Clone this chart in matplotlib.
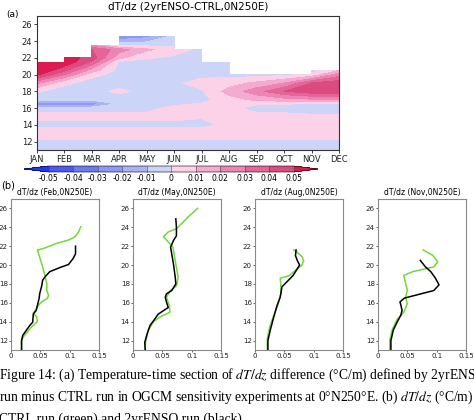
import numpy as np
import matplotlib
matplotlib.use("Agg")
import matplotlib.pyplot as plt
from matplotlib import font_manager
from matplotlib.colors import ListedColormap, BoundaryNorm

nan = np.nan

# ---- panel (a): dT/dz difference, month x temperature level (units 1e-3 C/m)
months = list(range(1, 13))
month_labels = ["JAN", "FEB", "MAR", "APR", "MAY", "JUN",
                "JUL", "AUG", "SEP", "OCT", "NOV", "DEC"]
temp_levels = [11, 12, 13, 14, 15, 16, 16.5, 17, 18, 19, 20, 20.5, 21.5, 22, 23, 23.5, 24.5]
diff_field = [
    [-5, -2, 6, -3, 3, -4, -30, -8, 1, 22, 52, 60, 49, nan, nan, nan, nan],
    [-5, -2, 6, -3, 3, -4, -30, -8, -4, 2, 30, 42, 58, 55, nan, nan, nan],
    [-5, -2, 6, -3, 3, -4, -28, -8, -3, -4, 3, 15, 38, 46, 40, 20, nan],
    [-5, -2, 6, -3, 3, -4, -8, -5, 2, -4, -4, -3, -2, 12, 25, -2, -28],
    [-5, -2, 6, -3, 3, -3, -5, -5, -3, -4, -4, -4, -4, 1, 12, -2, -22],
    [-5, -2, 6, -3, 3, 3, -2, -4, -2, -2, -4, -4, -4, -2, 5, -3, -5],
    [-5, -2, 6, -3, 1, 4, 1, -3, -1, 4, -3, -4, -4, -3, -3, nan, nan],
    [-5, -2, 5, 3, 5, 3, 6, 6, 14, 6, -3, -4, -4, nan, nan, nan, nan],
    [-5, -2, 5, 5, 4, -4, 1, 12, 26, 12, -4, nan, nan, nan, nan, nan, nan],
    [-5, -2, 5, 5, 4, -5, 1, 15, 40, 20, -2, nan, nan, nan, nan, nan, nan],
    [-5, -2, 5, 5, 4, -11, -2, 18, 46, 40, 2, -3, nan, nan, nan, nan, nan],
    [-5, -2, 5, 5, 4, -11, -2, 18, 48, 46, 25, 10, nan, nan, nan, nan, nan],
]
cbar_levels = [-0.05, -0.04, -0.03, -0.02, -0.01, 0, 0.01, 0.02, 0.03, 0.04, 0.05]
cbar_labels = ["-0.05", "-0.04", "-0.03", "-0.02", "-0.01", "0",
               "0.01", "0.02", "0.03", "0.04", "0.05"]

# ---- panel (b): vertical profiles, dT/dz (C/m) against temperature (C)
feb_ens_dtdz = [.018, .018, .020, .032, .037, .038, .043, .048, .049, .052, .054, .058, .066, .084, .098, .106, .110, .110]
feb_ens_temp = [11.0, 12.0, 12.55, 13.6, 13.95, 14.8, 15.2, 16.5, 17.0, 17.7, 18.4, 18.75, 19.3, 19.75, 20.06, 20.7, 21.2, 22.0]
feb_ctrl_dtdz = [.018, .018, .021, .026, .035, .045, .044, .038, .047, .052, .062, .064, .061, .061, .057, .052, .047, .045, .055, .078, .098, .109, .115, .119]
feb_ctrl_temp = [11.0, 11.9, 12.4, 12.75, 13.45, 14.0, 14.5, 14.9, 15.75, 16.1, 16.45, 16.8, 17.3, 18.05, 19.1, 20.2, 21.2, 21.6, 21.75, 22.3, 22.65, 23.0, 23.5, 24.05]

may_ens_dtdz = [.021, .020, .024, .029, .035, .043, .060, .057, .055, .057, .066, .073, .072, .069, .066, .064, .069, .074, .074, .073]
may_ens_temp = [11.0, 11.8, 12.7, 13.6, 14.1, 14.8, 15.5, 16.1, 16.6, 16.95, 17.3, 18.0, 18.7, 20.1, 21.2, 21.9, 22.6, 23.1, 24.0, 24.9]
may_ctrl_dtdz = [.020, .022, .026, .035, .046, .063, .062, .057, .064, .074, .077, .073, .070, .068, .052, .060, .074, .083, .094, .110]
may_ctrl_temp = [11.0, 12.0, 13.1, 14.0, 14.5, 15.0, 15.7, 16.6, 17.3, 17.8, 18.7, 20.1, 21.2, 21.9, 23.0, 23.5, 23.85, 24.4, 25.1, 26.0]

aug_ens_dtdz = [.022, .022, .026, .032, .037, .043, .046, .054, .065, .071, .076, .072, .069, .070]
aug_ens_temp = [11.0, 12.0, 13.1, 14.5, 15.6, 16.6, 17.7, 18.2, 18.9, 19.5, 20.0, 20.5, 21.0, 21.6]
aug_ctrl_dtdz = [.021, .021, .025, .031, .038, .044, .044, .043, .059, .070, .080, .083, .080, .071, .066]
aug_ctrl_temp = [11.0, 12.2, 13.45, 14.5, 15.6, 17.0, 17.9, 18.6, 18.9, 19.5, 20.0, 20.45, 20.9, 21.4, 21.6]

nov_ens_dtdz = [.022, .022, .026, .033, .039, .041, .039, .0375, .045, .095, .104, .098, .090, .081, .072]
nov_ens_temp = [11.0, 12.0, 13.1, 14.0, 14.7, 15.2, 15.75, 16.1, 16.5, 17.3, 17.9, 18.6, 19.3, 19.8, 20.5]
nov_ctrl_dtdz = [.020, .020, .024, .032, .044, .050, .047, .050, .047, .044, .059, .095, .102, .093, .077]
nov_ctrl_temp = [11.0, 12.0, 13.1, 14.2, 15.0, 15.9, 16.6, 17.35, 18.05, 18.9, 19.3, 19.8, 20.35, 21.05, 21.6]

profiles = [
    ("Feb", feb_ens_dtdz, feb_ens_temp, feb_ctrl_dtdz, feb_ctrl_temp),
    ("May", may_ens_dtdz, may_ens_temp, may_ctrl_dtdz, may_ctrl_temp),
    ("Aug", aug_ens_dtdz, aug_ens_temp, aug_ctrl_dtdz, aug_ctrl_temp),
    ("Nov", nov_ens_dtdz, nov_ens_temp, nov_ctrl_dtdz, nov_ctrl_temp),
]

shade_colors = ["#4a5cf0", "#6a7af0", "#8c98f2", "#aab4f4", "#ccd4f8",
                "#fcd2e8", "#f5aad0", "#ec84b4", "#e36698", "#dc4a80"]
under_color = "#2438f0"
over_color = "#dc1c50"
green = "#72d83c"

# narrow font for the GrADS-style tick labels, if it is there
try:
    font_manager.findfont("Liberation Sans Narrow", fallback_to_default=False)
    tick_family = "Liberation Sans Narrow"
except ValueError:
    tick_family = "DejaVu Sans"

W, H = 474, 420
fig = plt.figure(figsize=(W / 100, H / 100), dpi=100)


def box(x0, y0, x1, y1):
    # pixel box (top-left origin) -> figure fraction rect
    return [x0 / W, 1 - y1 / H, (x1 - x0) / W, (y1 - y0) / H]


def style_ticks(a, size):
    for lab in a.get_xticklabels() + a.get_yticklabels():
        lab.set_family(tick_family)
        lab.set_fontsize(size)


# ---------------- panel (a)
ax = fig.add_axes(box(37, 16, 339, 150))
cmap = ListedColormap(shade_colors)
cmap.set_under(under_color)
cmap.set_over(over_color)
norm = BoundaryNorm(cbar_levels, cmap.N)
Z = np.ma.masked_invalid(np.array(diff_field, dtype=float).T * 1e-3)
cf = ax.contourf(months, temp_levels, Z, levels=cbar_levels, cmap=cmap,
                 norm=norm, extend="both", corner_mask=False)
ax.set_xlim(1, 12)
ax.set_ylim(11, 27)
ax.set_xticks(months)
ax.set_xticklabels(month_labels)
ax.set_yticks(range(12, 27, 2))
ax.tick_params(length=2, width=0.6, pad=1.5, colors="#222222")
style_ticks(ax, 6)
for s in ax.spines.values():
    s.set_linewidth(0.8)
    s.set_color("#333333")
fig.text(188 / W, 1 - 7.5 / H, "dT/dz (2yrENSO-CTRL,0N250E)", ha="center",
         va="center", fontsize=7.5)
fig.text(6 / W, 1 - 14 / H, "(a)", ha="left", va="center", fontsize=6.5)

cax = fig.add_axes(box(24, 166, 318, 172))
cb = fig.colorbar(cf, cax=cax, orientation="horizontal", extendfrac=0.1,
                  drawedges=True, ticks=cbar_levels)
cb.ax.set_xticklabels(cbar_labels)
cb.ax.tick_params(length=0, pad=1.5)
style_ticks(cb.ax, 5.5)
cb.outline.set_linewidth(0.4)
cb.dividers.set_linewidth(0.4)
cb.dividers.set_color("#444444")

# ---------------- panel (b)
lefts = [11, 133, 255, 378]
for left, (mon, ens_x, ens_y, ctrl_x, ctrl_y) in zip(lefts, profiles):
    bx = fig.add_axes(box(left, 199, left + 88, 350))
    bx.plot(ctrl_x, ctrl_y, color=green, lw=1.1)
    bx.plot(ens_x, ens_y, color="black", lw=1.1)
    bx.set_xlim(0, 0.15)
    bx.set_ylim(11, 27)
    bx.set_xticks([0, 0.05, 0.1, 0.15])
    bx.set_xticklabels(["0", "0.05", "0.1", "0.15"])
    bx.set_yticks(range(12, 27, 2))
    bx.tick_params(length=1.5, width=0.5, pad=0.8, colors="#222222")
    style_ticks(bx, 5.1)
    for s in bx.spines.values():
        s.set_linewidth(0.8)
        s.set_color("#8a8a8a")
    fig.text((left + 44) / W, 1 - 193 / H, "dT/dz (%s,0N250E)" % mon,
             ha="center", va="center", fontsize=5.5)
fig.text(1 / W, 1 - 186 / H, "(b)", ha="left", va="center", fontsize=7)

# ---------------- caption
plt.rcParams["mathtext.fontset"] = "stix"
cap = dict(fontsize=9.8, family="Liberation Serif", ha="left", va="baseline")
fig.text(-1 / W, 1 - 379 / H,
         r"Figure 14: (a) Temperature-time section of $\mathit{dT/dz}$ difference (°C/m) defined by 2yrENSO",
         **cap)
fig.text(-1 / W, 1 - 401 / H,
         r"run minus CTRL run in OGCM sensitivity experiments at 0°N250°E. (b) $\mathit{dT/dz}$ (°C/m) in",
         **cap)
fig.text(-1 / W, 1 - 423 / H, "CTRL run (green) and 2yrENSO run (black).", **cap)

fig.savefig("out.png", dpi=100)
